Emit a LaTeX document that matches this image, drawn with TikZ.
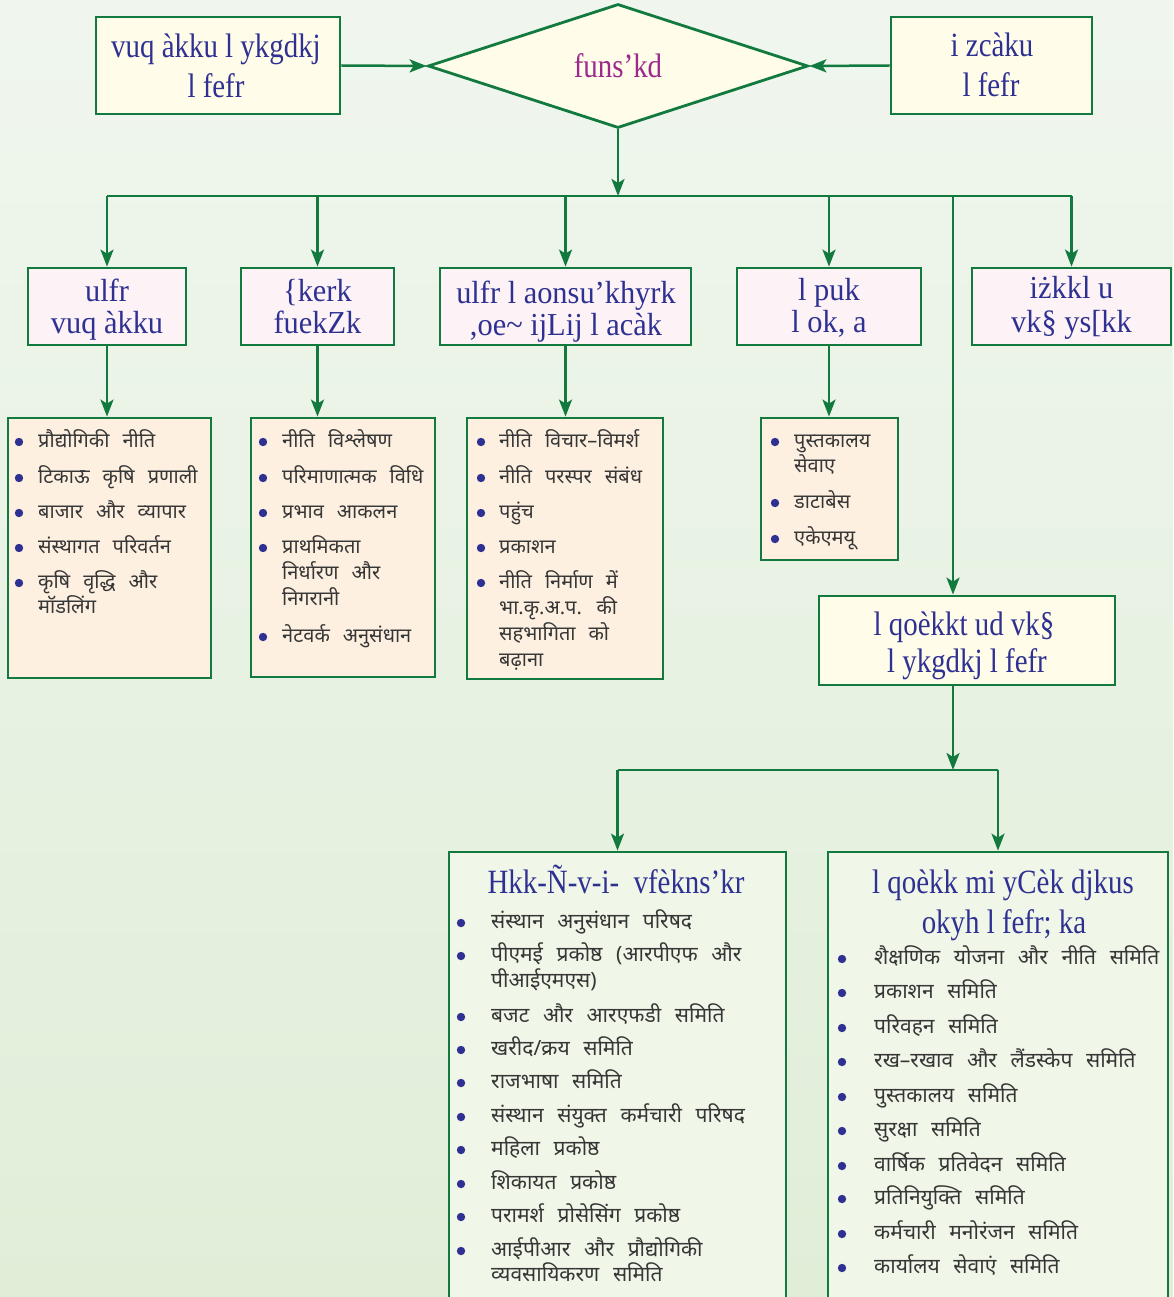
\documentclass[tikz,border=0pt]{standalone}
\usepackage{fontspec}
\usetikzlibrary{arrows.meta,shapes.geometric}
\newfontfamily\dev[Script=Devanagari,WordSpace=2.5]{Noto Sans}
\newfontfamily\kd[FakeStretch=0.85]{Liberation Serif}
\newfontfamily\kdw[FakeStretch=0.95]{Liberation Serif}
\definecolor{gb}{HTML}{127A3E}
\definecolor{hb}{HTML}{2E3192}
\definecolor{mg}{HTML}{9C2A8C}
\definecolor{cream}{HTML}{FFFDEA}
\definecolor{pinkf}{HTML}{FDF3F6}
\definecolor{peach}{HTML}{FDF0E1}
\definecolor{pale}{HTML}{F0F6E8}
\definecolor{txtc}{HTML}{363636}
\definecolor{bgt}{HTML}{F0F6EE}
\definecolor{bgm}{HTML}{E2EFDA}
\definecolor{bgb}{HTML}{E0EED8}
\newcommand\itm[5]{\fill[bul] (#2,#4-5) circle (4.2pt); \node[lst] (#1) at (#3,#4) {#5};}
\newcommand\itmb[5]{\fill[bul] (#2,#4-5) circle (4.2pt); \node[lstb] (#1) at (#3,#4) {#5};}
\begin{document}
\begin{tikzpicture}[x=1pt,y=-1pt,
  cbox/.style={draw=gb, line width=2.8pt, inner sep=0pt, rectangle},
  hdA/.style={anchor=base, inner sep=0pt, text=hb, font=\kd\fontsize{34}{40}\selectfont},
  hdB/.style={anchor=base, inner sep=0pt, text=hb, font=\kdw\fontsize{32}{36}\selectfont},
  lst/.style={anchor=base west, inner sep=0pt, text=txtc, font=\dev\fontsize{20}{24}\selectfont},
  lstb/.style={anchor=base west, inner sep=0pt, text=txtc, font=\dev\fontsize{21}{25}\selectfont},
  bul/.style={fill=hb},
  conn/.style={draw=gb, line width=2.5pt},
  arr/.style={conn, -{Stealth[length=17pt,width=13pt,inset=4pt]}}]
\useasboundingbox (0,0) rectangle (1173,1297);
\clip (0,0) rectangle (1173,1297);
\shade[top color=bgt, middle color=bgm, bottom color=bgb] (0,0) rectangle (1173,1297);

% top row
\node[cbox, fill=cream, minimum width=244pt, minimum height=97pt] (tl) at (218,65.5) {};
\node[hdA] (tla) at (216,58) {vuq àkku l ykgdkj};
\node[hdA] (tlb) at (216,98) {l fefr};
\node[cbox, fill=cream, minimum width=201pt, minimum height=97pt] (tr) at (991.5,65.5) {};
\node[hdA] (tra) at (992,57) {i zcàku};
\node[hdA] (trb) at (991,97) {l fefr};
\node[diamond, draw=gb, line width=2.8pt, fill=cream, minimum width=380pt, minimum height=124pt, inner sep=0pt, text=mg, font=\kd\fontsize{34}{40}\selectfont] (dir) at (618,66) {funs’kd};

\draw[arr] (tl.east) -- (dir.west);
\draw[arr] (tr.west) -- (dir.east);

% second row
\node[cbox, fill=pinkf, minimum width=158pt, minimum height=77pt] (b1) at (107,306.5) {};
\node[cbox, fill=pinkf, minimum width=153pt, minimum height=77pt] (b2) at (317.5,306.5) {};
\node[cbox, fill=pinkf, minimum width=251pt, minimum height=77pt] (b3) at (565.5,306.5) {};
\node[cbox, fill=pinkf, minimum width=184pt, minimum height=77pt] (b4) at (829,306.5) {};
\node[cbox, fill=pinkf, minimum width=199pt, minimum height=77pt] (b5) at (1071.5,306.5) {};
\node[hdB] (b1a) at (107,301) {ulfr};
\node[hdB] (b1b) at (107,333) {vuq àkku};
\node[hdB] (b2a) at (317.5,301) {\{kerk};
\node[hdB] (b2b) at (317.5,333) {fuekZk};
\node[hdB] (b3a) at (566,303) {ulfr l aonsu’khyrk};
\node[hdB] (b3b) at (566,335) {,oe\string~ ijLij l acàk};
\node[hdB] (b4a) at (829,300) {l puk};
\node[hdB] (b4b) at (829,332) {l ok, a};
\node[hdB] (b5a) at (1071.5,298) {iżkkl u};
\node[hdB] (b5b) at (1071.5,332) {vk§ ys[kk};

\coordinate (j1) at (618,196);
\coordinate (v5) at (953,196);
\draw[arr] (dir.south) -- (j1);
\draw[conn] (b1.north |- j1) -- (b5.north |- j1);
\foreach \b in {b1,b2,b3,b4,b5} \draw[arr] (\b.north |- j1) -- (\b.north);

% lists
\node[cbox, fill=peach, minimum width=203pt, minimum height=260pt] (l1) at (109.5,548) {};
\node[cbox, fill=peach, minimum width=184pt, minimum height=259pt] (l2) at (343,547.5) {};
\node[cbox, fill=peach, minimum width=196pt, minimum height=261pt] (l3) at (565,548.5) {};
\node[cbox, fill=peach, minimum width=137pt, minimum height=142pt] (l4) at (829.5,489) {};
\foreach \b/\l in {b1/l1,b2/l2,b3/l3,b4/l4} \draw[arr] (\b.south) -- (\b.south |- \l.north);

\itm{l1i1}{19}{38}{447}{प्रौद्योगिकी नीति}
\itm{l1i2}{19}{38}{483}{टिकाऊ कृषि प्रणाली}
\itm{l1i3}{19}{38}{518}{बाजार और व्यापार}
\itm{l1i4}{19}{38}{553}{संस्थागत परिवर्तन}
\itm{l1i5}{19}{38}{588}{कृषि वृद्धि और}
\node[lst] (l1i5b) at (38,613) {मॉडलिंग};

\itm{l2i1}{263}{282}{447}{नीति विश्लेषण}
\itm{l2i2}{263}{282}{483}{परिमाणात्मक विधि}
\itm{l2i3}{263}{282}{518}{प्रभाव आकलन}
\itm{l2i4}{263}{282}{553}{प्राथमिकता}
\node[lst] (l2i4b) at (282,579) {निर्धारण और};
\node[lst] (l2i4c) at (282,605) {निगरानी};
\itm{l2i5}{263}{282}{642}{नेटवर्क अनुसंधान}

\itm{l3i1}{481}{499}{447}{नीति विचार–विमर्श}
\itm{l3i2}{481}{499}{483}{नीति परस्पर संबंध}
\itm{l3i3}{481}{499}{518}{पहुंच}
\itm{l3i4}{481}{499}{553}{प्रकाशन}
\itm{l3i5}{481}{499}{588}{नीति निर्माण में}
\node[lst] (l3i5b) at (499,614) {भा.कृ.अ.प. की};
\node[lst] (l3i5c) at (499,640) {सहभागिता को};
\node[lst] (l3i5d) at (499,666) {बढ़ाना};

\itm{l4i1}{775}{794}{447}{पुस्तकालय}
\node[lst] (l4i1b) at (794,472) {सेवाए};
\itm{l4i2}{775}{794}{508}{डाटाबेस}
\itm{l4i3}{775}{794}{544}{एकेएमयू}

% middle box
\node[cbox, fill=cream, minimum width=296pt, minimum height=89pt] (mid) at (967,640.5) {};
\node[hdA] (mida) at (964,635) {l qoèkkt ud vk§};
\node[hdA] (midb) at (967,672) {l ykgdkj l fefr};
\draw[arr] (v5) -- (v5 |- mid.north);

% bottom
\coordinate (j2) at (953,770);
\node[cbox, fill=pale, minimum width=337pt, minimum height=458pt] (bl) at (617.5,1081) {};
\node[cbox, fill=pale, minimum width=340pt, minimum height=458pt] (br) at (998,1081) {};
\draw[arr] (mid.south -| v5) -- (j2);
\draw[conn] (bl.north |- j2) -- (br.north |- j2);
\draw[arr] (bl.north |- j2) -- (bl.north);
\draw[arr] (br.north |- j2) -- (br.north);

\node[hdA] (bla) at (616,893) {Hkk-Ñ-v-i-\ \ vfèkns’kr};
\node[hdA] (bra) at (1003,893) {l qoèkk mi yCèk djkus};
\node[hdA] (brb) at (1004,933) {okyh l fefr; ka};

\itmb{bl1}{461}{491}{928}{संस्थान अनुसंधान परिषद}
\itmb{bl2}{461}{491}{961}{पीएमई प्रकोष्ठ (आरपीएफ और}
\node[lstb] (bl2b) at (491,987) {पीआईएमएस)};
\itmb{bl3}{461}{491}{1022}{बजट और आरएफडी समिति}
\itmb{bl4}{461}{491}{1055}{खरीद/क्रय समिति}
\itmb{bl5}{461}{491}{1088}{राजभाषा समिति}
\itmb{bl6}{461}{491}{1122}{संस्थान संयुक्त कर्मचारी परिषद}
\itmb{bl7}{461}{491}{1155}{महिला प्रकोष्ठ}
\itmb{bl8}{461}{491}{1189}{शिकायत प्रकोष्ठ}
\itmb{bl9}{461}{491}{1222}{परामर्श प्रोसेसिंग प्रकोष्ठ}
\itmb{bl10}{461}{491}{1256}{आईपीआर और प्रौद्योगिकी}
\node[lstb] (bl10b) at (491,1281) {व्यवसायिकरण समिति};

\itmb{br1}{842}{874}{964}{शैक्षणिक योजना और नीति समिति}
\itmb{br2}{842}{874}{998}{प्रकाशन समिति}
\itmb{br3}{842}{874}{1033}{परिवहन समिति}
\itmb{br4}{842}{874}{1067}{रख–रखाव और लैंडस्केप समिति}
\itmb{br5}{842}{874}{1102}{पुस्तकालय समिति}
\itmb{br6}{842}{874}{1136}{सुरक्षा समिति}
\itmb{br7}{842}{874}{1171}{वार्षिक प्रतिवेदन समिति}
\itmb{br8}{842}{874}{1204}{प्रतिनियुक्ति समिति}
\itmb{br9}{842}{874}{1239}{कर्मचारी मनोरंजन समिति}
\itmb{br10}{842}{874}{1273}{कार्यालय सेवाएं समिति}
\end{tikzpicture}
\end{document}
